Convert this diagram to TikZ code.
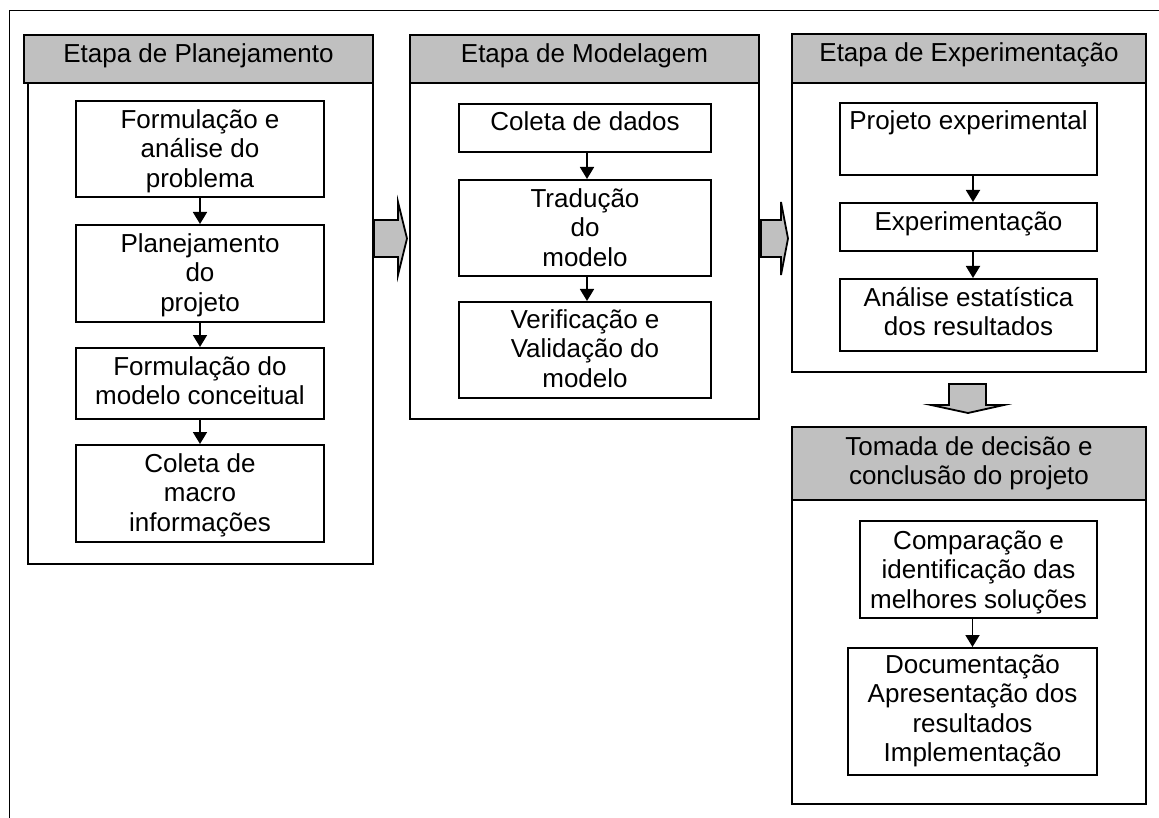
\documentclass[tikz,border=0pt]{standalone}
\usepackage{fontspec}
\setmainfont{Liberation Sans}
\usetikzlibrary{arrows.meta}
\definecolor{hdrgray}{RGB}{192,192,192}
\begin{document}
\begin{tikzpicture}[x=1pt,y=-1pt,
  box/.style={draw, line width=2pt, inner sep=0pt, anchor=north west, fill=white},
  hdrbox/.style={box, fill=hdrgray},
  txt/.style={anchor=north, align=center, inner sep=0pt, font=\fontsize{26}{29.5}\selectfont},
  arr/.style={-{Triangle[length=12pt,width=14pt]}, line width=1.8pt},
  blockarrow/.style={draw, fill=hdrgray, line width=1.8pt, line join=miter}]
\useasboundingbox (0,0) rectangle (1159,818);
% outer frame (left and top edges)
\draw[line width=1.8pt] (9.5,818) -- (9.5,10.5) -- (1159,10.5);

% ---------- Stage 1: Planejamento ----------
\node[box, minimum width=345pt, minimum height=529pt] (s1) at (27,34) {};
\node[hdrbox, minimum width=349pt, minimum height=48pt] (s1h) at (23,34) {};
\node[txt] (s1ht) at ([yshift=-3pt]s1h.north) {\rule{0pt}{25pt}Etapa de Planejamento};
\node[box, minimum width=248pt, minimum height=96pt] (a1) at (75,100) {};
\node[box, minimum width=248pt, minimum height=97pt] (a2) at (75,224) {};
\node[box, minimum width=248pt, minimum height=71pt] (a3) at (75,347) {};
\node[box, minimum width=248pt, minimum height=97pt] (a4) at (75,444) {};
\node[txt] (a1t) at ([yshift=-3pt]a1.north) {\rule{0pt}{25pt}Formulação e\\análise do\\problema};
\node[txt] (a2t) at ([yshift=-3pt]a2.north) {\rule{0pt}{25pt}Planejamento\\do\\projeto};
\node[txt] (a3t) at ([yshift=-3pt]a3.north) {\rule{0pt}{25pt}Formulação do\\modelo conceitual};
\node[txt] (a4t) at ([yshift=-3pt]a4.north) {\rule{0pt}{25pt}Coleta de\\macro\\informações};
\draw[arr] (a1.south) -- (a2.north);
\draw[arr] (a2.south) -- (a3.north);
\draw[arr] (a3.south) -- (a4.north);

% ---------- Stage 2: Modelagem ----------
\node[box, minimum width=349pt, minimum height=384pt] (s2) at (409,34) {};
\node[hdrbox, minimum width=349pt, minimum height=48pt] (s2h) at (409,34) {};
\node[txt] (s2ht) at ([yshift=-3pt]s2h.north) {\rule{0pt}{25pt}Etapa de Modelagem};
\node[box, minimum width=252pt, minimum height=48pt] (b1) at (458,103) {};
\node[box, minimum width=252pt, minimum height=96pt] (b2) at (458,179) {};
\node[box, minimum width=252pt, minimum height=96pt] (b3) at (458,301) {};
\node[txt] (b1t) at ([yshift=-2pt]b1.north) {\rule{0pt}{25pt}Coleta de dados};
\node[txt] (b2t) at ([yshift=-3pt]b2.north) {\rule{0pt}{25pt}Tradução\\do\\modelo};
\node[txt] (b3t) at ([yshift=-2pt]b3.north) {\rule{0pt}{25pt}Verificação e\\Validação do\\modelo};
\draw[arr] ([xshift=2pt]b1.south) -- ([xshift=2pt]b2.north);
\draw[arr] ([xshift=2pt]b2.south) -- ([xshift=2pt]b3.north);

% ---------- Stage 3: Experimentação ----------
\node[box, minimum width=354pt, minimum height=338pt] (s3) at (791,33) {};
\node[hdrbox, minimum width=354pt, minimum height=49pt] (s3h) at (791,33) {};
\node[txt] (s3ht) at ([yshift=-3pt]s3h.north) {\rule{0pt}{25pt}Etapa de Experimentação};
\node[box, minimum width=257pt, minimum height=72pt] (c1) at (839,102) {};
\node[box, minimum width=257pt, minimum height=48pt] (c2) at (839,202) {};
\node[box, minimum width=257pt, minimum height=72pt] (c3) at (839,278) {};
\node[txt] (c1t) at ([yshift=-2pt]c1.north) {\rule{0pt}{25pt}Projeto experimental};
\node[txt] (c2t) at ([yshift=-3pt]c2.north) {\rule{0pt}{25pt}Experimentação};
\node[txt] (c3t) at ([yshift=-3pt]c3.north) {\rule{0pt}{25pt}Análise estatística\\dos resultados};
\draw[arr] ([xshift=4.5pt]c1.south) -- ([xshift=4.5pt]c2.north);
\draw[arr] ([xshift=4.5pt]c2.south) -- ([xshift=4.5pt]c3.north);

% ---------- Stage 4: Tomada de decisão ----------
\node[box, minimum width=354pt, minimum height=377pt] (s4) at (791,426) {};
\node[hdrbox, minimum width=354pt, minimum height=73pt] (s4h) at (791,426) {};
\node[txt] (s4ht) at ([yshift=-4pt]s4h.north) {\rule{0pt}{25pt}Tomada de decisão e\\conclusão do projeto};
\node[box, minimum width=237pt, minimum height=97pt] (d1) at (859,520) {};
\node[box, minimum width=249pt, minimum height=127pt] (d2) at (847,647) {};
\node[txt] (d1t) at ([yshift=-4pt]d1.north) {\rule{0pt}{25pt}Comparação e\\identificação das\\melhores soluções};
\node[txt] (d2t) at ([yshift=-1pt]d2.north) {\rule{0pt}{25pt}Documentação\\Apresentação dos\\resultados\\Implementação};
\draw[arr] (d1.south -| d2.north) -- (d2.north);

% ---------- block arrows between stages ----------
\draw[blockarrow] (374,220) -- (398,220) -- (398,202) -- (407,238.5) -- (398,275) -- (398,257) -- (374,257) -- cycle;
\draw[blockarrow] (761,220) -- (781,220) -- (781,202) -- (788,238.5) -- (781,275) -- (781,257) -- (761,257) -- cycle;
\draw[blockarrow] (949,384) -- (986,384) -- (986,405) -- (1004,405) -- (968,413) -- (931,405) -- (949,405) -- cycle;
\end{tikzpicture}
\end{document}
